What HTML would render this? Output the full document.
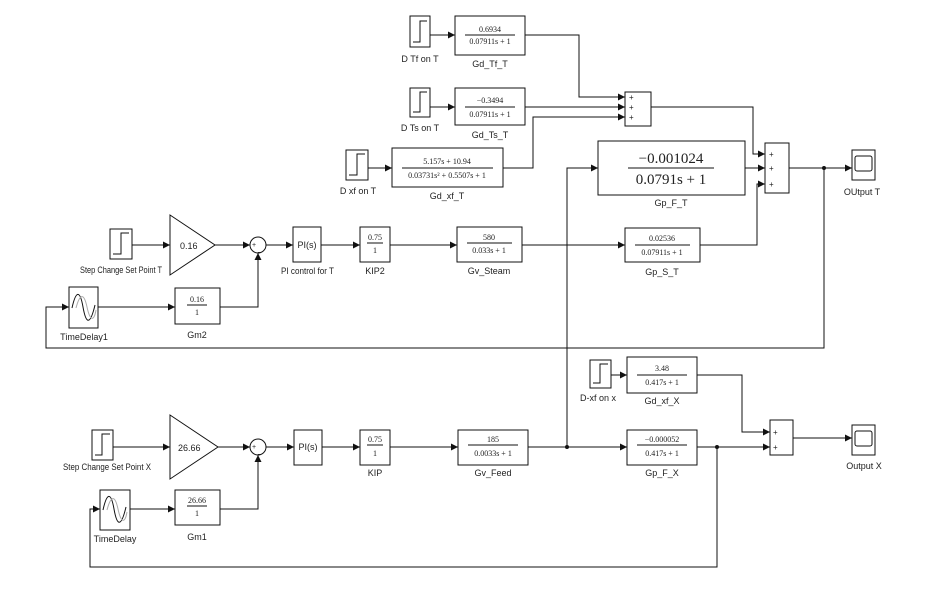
<!DOCTYPE html>
<html><head><meta charset="utf-8"><style>
html,body{margin:0;padding:0;background:#fff;}
svg{display:block;}
text{font-family:"Liberation Sans Narrow","Liberation Sans",sans-serif;font-size:9px;fill:#222;}
.f{font-family:"Liberation Serif",serif;font-size:8px;}
.b{fill:#fff;stroke:#111;stroke-width:1;}
.l{fill:none;stroke:#111;stroke-width:1;}
</style></head><body>
<svg width="936" height="608" viewBox="0 0 936 608" xmlns="http://www.w3.org/2000/svg">
<defs><marker id="a" markerWidth="8" markerHeight="8" refX="7" refY="4" orient="auto" markerUnits="userSpaceOnUse"><path d="M0,0.5 L7,4 L0,7.5z" fill="#111"/></marker></defs>

<rect class="b" x="410" y="16" width="20" height="31"/><path class="l" d="M413,42 H420 V21 H427"/>
<text x="420" y="62" text-anchor="middle">D Tf on T</text>
<rect class="b" x="455" y="16" width="70" height="39"/>
<text class="f" x="490" y="32" text-anchor="middle">0.6934</text><line class="l" x1="465" y1="35" x2="515" y2="35"/><text class="f" x="490" y="44" text-anchor="middle">0.07911s + 1</text>
<text x="490" y="67" text-anchor="middle">Gd_Tf_T</text>
<path class="l" d="M430,35 H455" marker-end="url(#a)"/>

<rect class="b" x="410" y="88" width="20" height="29"/><path class="l" d="M413,112 H420 V92 H427"/>
<text x="420" y="131" text-anchor="middle">D Ts on T</text>
<rect class="b" x="455" y="88" width="70" height="37"/>
<text class="f" x="490" y="103" text-anchor="middle">−0.3494</text><line class="l" x1="465" y1="107" x2="515" y2="107"/><text class="f" x="490" y="117" text-anchor="middle">0.07911s + 1</text>
<text x="490" y="138" text-anchor="middle">Gd_Ts_T</text>
<path class="l" d="M430,107 H455" marker-end="url(#a)"/>

<rect class="b" x="346" y="150" width="22" height="30"/><path class="l" d="M349,175 H357 V154 H365"/>
<text x="358" y="194" text-anchor="middle">D xf on T</text>
<rect class="b" x="392" y="148" width="111" height="39"/>
<text class="f" x="447" y="164" text-anchor="middle">5.157s + 10.94</text><line class="l" x1="402" y1="168" x2="493" y2="168"/><text class="f" x="447" y="178" text-anchor="middle">0.03731s² + 0.5507s + 1</text>
<text x="447" y="199" text-anchor="middle">Gd_xf_T</text>
<path class="l" d="M368,168 H392" marker-end="url(#a)"/>

<rect class="b" x="625" y="92" width="26" height="34"/>
<text x="629" y="100" style="font-size:8px">+</text><text x="629" y="110" style="font-size:8px">+</text><text x="629" y="120" style="font-size:8px">+</text>
<path class="l" d="M525,35 H579 V97 H625" marker-end="url(#a)"/>
<path class="l" d="M525,107 H625" marker-end="url(#a)"/>
<path class="l" d="M503,168 H533 V117 H625" marker-end="url(#a)"/>

<rect class="b" x="765" y="143" width="24" height="50"/>
<text x="769" y="157" style="font-size:8px">+</text><text x="769" y="171" style="font-size:8px">+</text><text x="769" y="187" style="font-size:8px">+</text>
<path class="l" d="M651,107 H753 V154 H765" marker-end="url(#a)"/>

<rect class="b" x="598" y="141" width="147" height="54"/>
<text x="671" y="163" text-anchor="middle" style="font-family:'Liberation Serif',serif;font-size:15px">−0.001024</text>
<line class="l" x1="628" y1="168" x2="714" y2="168"/>
<text x="671" y="184" text-anchor="middle" style="font-family:'Liberation Serif',serif;font-size:15px">0.0791s + 1</text>
<text x="671" y="206" text-anchor="middle">Gp_F_T</text>
<path class="l" d="M745,168 H765" marker-end="url(#a)"/>
<path class="l" d="M567,447 V168 H598" marker-end="url(#a)"/>

<rect class="b" x="852" y="150" width="23" height="30"/><rect class="l" x="855" y="156" width="17" height="15" rx="2"/>
<text x="862" y="195" text-anchor="middle">OUtput T</text>
<path class="l" d="M789,168 H852" marker-end="url(#a)"/>
<circle cx="824" cy="168" r="2" fill="#111"/>

<rect class="b" x="110" y="229" width="22" height="30"/><path class="l" d="M113,254 H121 V233 H129"/>
<text x="80" y="273" textLength="82" lengthAdjust="spacingAndGlyphs">Step Change Set Point T</text>
<path class="b" d="M170,215 L215,245 L170,275z"/>
<text x="180" y="249">0.16</text>
<path class="l" d="M132,245 H170" marker-end="url(#a)"/>
<circle class="b" cx="258" cy="245" r="8"/>
<text x="252" y="247" style="font-size:7px">+</text><text x="258" y="251" style="font-size:7px">_</text>
<path class="l" d="M215,245 H250" marker-end="url(#a)"/>
<rect class="b" x="293" y="227" width="28" height="35"/><text x="307" y="248" text-anchor="middle">PI(s)</text>
<text x="281" y="274" textLength="53" lengthAdjust="spacingAndGlyphs">PI control for T</text>
<path class="l" d="M266,245 H293" marker-end="url(#a)"/>
<rect class="b" x="360" y="227" width="30" height="35"/>
<text class="f" x="375" y="240" text-anchor="middle">0.75</text><line class="l" x1="367" y1="243" x2="383" y2="243"/><text class="f" x="375" y="253" text-anchor="middle">1</text>
<text x="375" y="274" text-anchor="middle">KIP2</text>
<path class="l" d="M321,245 H360" marker-end="url(#a)"/>
<rect class="b" x="457" y="227" width="65" height="35"/>
<text class="f" x="489" y="240" text-anchor="middle">580</text><line class="l" x1="467" y1="243" x2="512" y2="243"/><text class="f" x="489" y="253" text-anchor="middle">0.033s + 1</text>
<text x="489" y="274" text-anchor="middle">Gv_Steam</text>
<path class="l" d="M390,245 H457" marker-end="url(#a)"/>
<rect class="b" x="625" y="228" width="75" height="34"/>
<text class="f" x="662" y="241" text-anchor="middle">0.02536</text><line class="l" x1="635" y1="245" x2="690" y2="245"/><text class="f" x="662" y="255" text-anchor="middle">0.07911s + 1</text>
<text x="662" y="275" text-anchor="middle">Gp_S_T</text>
<path class="l" d="M522,245 H625" marker-end="url(#a)"/>
<path class="l" d="M700,245 H757 V184 H765" marker-end="url(#a)"/>

<rect class="b" x="69" y="287" width="29" height="41"/>
<path d="M72,308 C76,290 80,290 83,307 S90,326 95,305" fill="none" stroke="#111"/>
<path d="M76,308 C80,293 84,293 87,307 S94,322 96,310" fill="none" stroke="#aaa"/>
<text x="84" y="340" text-anchor="middle">TimeDelay1</text>
<rect class="b" x="175" y="288" width="45" height="36"/>
<text class="f" x="197" y="302" text-anchor="middle">0.16</text><line class="l" x1="187" y1="305" x2="207" y2="305"/><text class="f" x="197" y="315" text-anchor="middle">1</text>
<text x="197" y="338" text-anchor="middle">Gm2</text>
<path class="l" d="M98,307 H175" marker-end="url(#a)"/>
<path class="l" d="M220,307 H258 V253" marker-end="url(#a)"/>
<path class="l" d="M824,168 V348 H46 V307 H69" marker-end="url(#a)"/>

<rect class="b" x="590" y="360" width="21" height="28"/><path class="l" d="M593,383 H600 V364 H608"/>
<text x="598" y="401" text-anchor="middle">D-xf on x</text>
<rect class="b" x="627" y="357" width="70" height="36"/>
<text class="f" x="662" y="371" text-anchor="middle">3.48</text><line class="l" x1="637" y1="375" x2="687" y2="375"/><text class="f" x="662" y="385" text-anchor="middle">0.417s + 1</text>
<text x="662" y="404" text-anchor="middle">Gd_xf_X</text>
<path class="l" d="M611,375 H627" marker-end="url(#a)"/>

<rect class="b" x="770" y="420" width="23" height="35"/>
<text x="773" y="435" style="font-size:8px">+</text><text x="773" y="450" style="font-size:8px">+</text>
<path class="l" d="M697,375 H742 V432 H770" marker-end="url(#a)"/>

<rect class="b" x="852" y="425" width="23" height="30"/><rect class="l" x="855" y="431" width="17" height="15" rx="2"/>
<text x="864" y="469" text-anchor="middle">Output X</text>
<path class="l" d="M793,438 H852" marker-end="url(#a)"/>

<rect class="b" x="92" y="430" width="21" height="30"/><path class="l" d="M95,455 H102 V434 H110"/>
<text x="63" y="470" textLength="88" lengthAdjust="spacingAndGlyphs">Step Change Set Point X</text>
<path class="b" d="M170,415 L218,447 L170,479z"/>
<text x="178" y="451">26.66</text>
<path class="l" d="M113,447 H170" marker-end="url(#a)"/>
<circle class="b" cx="258" cy="447" r="8"/>
<text x="252" y="449" style="font-size:7px">+</text><text x="258" y="453" style="font-size:7px">_</text>
<path class="l" d="M218,447 H250" marker-end="url(#a)"/>
<rect class="b" x="294" y="430" width="28" height="35"/><text x="308" y="450" text-anchor="middle">PI(s)</text>
<path class="l" d="M266,447 H294" marker-end="url(#a)"/>
<rect class="b" x="360" y="430" width="30" height="35"/>
<text class="f" x="375" y="442" text-anchor="middle">0.75</text><line class="l" x1="367" y1="445" x2="383" y2="445"/><text class="f" x="375" y="456" text-anchor="middle">1</text>
<text x="375" y="476" text-anchor="middle">KIP</text>
<path class="l" d="M322,447 H360" marker-end="url(#a)"/>
<rect class="b" x="458" y="430" width="70" height="35"/>
<text class="f" x="493" y="442" text-anchor="middle">185</text><line class="l" x1="468" y1="445" x2="518" y2="445"/><text class="f" x="493" y="456" text-anchor="middle">0.0033s + 1</text>
<text x="493" y="476" text-anchor="middle">Gv_Feed</text>
<path class="l" d="M390,447 H458" marker-end="url(#a)"/>
<circle cx="567" cy="447" r="2" fill="#111"/>
<rect class="b" x="627" y="430" width="70" height="35"/>
<text class="f" x="662" y="442" text-anchor="middle">−0.000052</text><line class="l" x1="637" y1="445" x2="687" y2="445"/><text class="f" x="662" y="456" text-anchor="middle">0.417s + 1</text>
<text x="662" y="476" text-anchor="middle">Gp_F_X</text>
<path class="l" d="M528,447 H627" marker-end="url(#a)"/>
<path class="l" d="M697,447 H770" marker-end="url(#a)"/>
<circle cx="717" cy="447" r="2" fill="#111"/>

<rect class="b" x="100" y="490" width="30" height="40"/>
<path d="M103,510 C107,492 111,492 114,509 S121,528 126,507" fill="none" stroke="#111"/>
<path d="M107,510 C111,495 115,495 118,509 S125,524 127,512" fill="none" stroke="#aaa"/>
<text x="115" y="542" text-anchor="middle">TimeDelay</text>
<rect class="b" x="175" y="490" width="45" height="35"/>
<text class="f" x="197" y="503" text-anchor="middle">26.66</text><line class="l" x1="187" y1="506" x2="207" y2="506"/><text class="f" x="197" y="516" text-anchor="middle">1</text>
<text x="197" y="540" text-anchor="middle">Gm1</text>
<path class="l" d="M130,509 H175" marker-end="url(#a)"/>
<path class="l" d="M220,509 H258 V455" marker-end="url(#a)"/>
<path class="l" d="M717,447 V567 H90 V509 H100" marker-end="url(#a)"/>
</svg>
</body></html>
